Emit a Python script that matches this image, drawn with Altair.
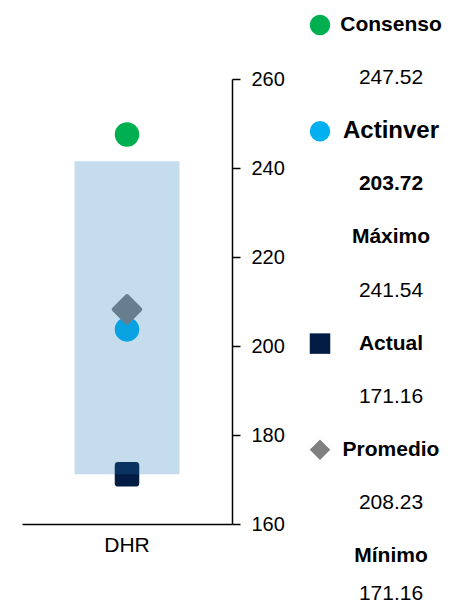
import altair as alt
import pandas as pd

# ---- data ----
tickers = ["DHR"]
series = ["Consenso", "Actinver", "Promedio", "Actual"]
series_values = [247.52, 203.72, 208.23, 171.16]
maximo = [241.54]
minimo = [171.16]
y_ticks = [160, 180, 200, 220, 240, 260]

legend_names = ["Consenso", "Actinver", "Máximo", "Actual", "Promedio", "Mínimo"]
legend_values = [247.52, 203.72, 241.54, 171.16, 208.23, 171.16]

# ---- styles ----
FONT = "Liberation Sans"
series_colors = ["#00b050", "#00b0f0", "#808080", "#031c44"]
round_square = "M-1,-0.72Q-1,-1,-0.72,-1L0.72,-1Q1,-1,1,-0.72L1,0.72Q1,1,0.72,1L-0.72,1Q-1,1,-1,0.72Z"
round_diamond = "M-0.9,-0.1L-0.1,-0.9Q0,-1,0.1,-0.9L0.9,-0.1Q1,0,0.9,0.1L0.1,0.9Q0,1,-0.1,0.9L-0.9,0.1Q-1,0,-0.9,-0.1Z"
plot_shapes = ["circle", "circle", round_diamond, round_square]
legend_shapes = ["circle", "circle", "diamond", "square"]

pts_df = pd.DataFrame({
    "ticker": tickers * len(series),
    "series": series,
    "value": series_values,
})
band_df = pd.DataFrame({"ticker": tickers, "minimo": minimo, "maximo": maximo})

leg_rows = []
for i, (n, v) in enumerate(zip(legend_names, legend_values)):
    leg_rows.append({"row": 2 * i, "col": 1, "label": n, "entry": n, "kind": "name"})
    leg_rows.append({"row": 2 * i + 1, "col": 1, "label": f"{v:.2f}", "entry": n, "kind": "value"})
leg_df = pd.DataFrame(leg_rows)

mk_df = pd.DataFrame({
    "series": series,
    "row": [2 * legend_names.index(s) for s in series],
    "col": [0] * len(series),
})

# ---- plot ----
x_axis = alt.Axis(orient="bottom", title=None, labelAngle=0, ticks=False, tickSize=0,
                  labelFontSize=21, labelColor="#000000", labelPadding=10,
                  domainColor="#000000", domainWidth=1.5, labelFont=FONT)
y_axis = alt.Axis(orient="right", values=y_ticks, title=None, grid=False,
                  labelFontSize=20, labelColor="#000000", labelPadding=11,
                  tickSize=8, tickColor="#000000", tickWidth=1.5,
                  domainColor="#000000", domainWidth=1.5, labelFont=FONT)
x_enc = alt.X("ticker:N", scale=alt.Scale(domain=tickers), axis=x_axis)
y_scale = alt.Scale(domain=[160, 260], nice=False, zero=False)
color_plot = alt.Color("series:N", scale=alt.Scale(domain=series, range=series_colors), legend=None)
shape_plot = alt.Shape("series:N", scale=alt.Scale(domain=series, range=plot_shapes), legend=None)

points = alt.Chart(pts_df).transform_filter("datum.series != 'Promedio'").mark_point(
    filled=True, opacity=1, strokeWidth=0, size=600
).encode(
    x=x_enc,
    y=alt.Y("value:Q", scale=y_scale, axis=y_axis),
    color=color_plot,
    shape=shape_plot,
)

diamond = alt.Chart(pts_df).transform_filter("datum.series == 'Promedio'").mark_point(
    filled=True, opacity=1, strokeWidth=0, size=1050
).encode(
    x=x_enc,
    y=alt.Y("value:Q", scale=y_scale, axis=y_axis),
    color=color_plot,
    shape=shape_plot,
)

band = alt.Chart(band_df).mark_bar(size=105, color="#1f77b4", opacity=0.26).encode(
    x=x_enc,
    y=alt.Y("minimo:Q", scale=y_scale, axis=y_axis),
    y2="maximo:Q",
)

plot = alt.layer(points, diamond, band)

# ---- legend column ----
ly = alt.Y("row:Q", scale=alt.Scale(domain=[0, 10, 11], range=[-54, 477, 515]), axis=None)
lx = alt.X("col:Q", scale=alt.Scale(domain=[0, 1], range=[298, 369]), axis=None)

markers = alt.Chart(mk_df).mark_point(filled=True, opacity=1, strokeWidth=0, size=420).encode(
    x=lx, y=ly,
    color=alt.Color("series:N", scale=alt.Scale(domain=series, range=series_colors), legend=None),
    shape=alt.Shape("series:N", scale=alt.Scale(domain=series, range=legend_shapes), legend=None),
)

txt_bold = alt.Chart(leg_df).transform_filter(
    "(datum.kind == 'name' && datum.entry != 'Actinver') || (datum.kind == 'value' && datum.entry == 'Actinver')"
).mark_text(font=FONT, fontSize=21, fontWeight="bold", color="#000000",
            align="center", baseline="middle").encode(x=lx, y=ly, text="label:N")

txt_big = alt.Chart(leg_df).transform_filter(
    "datum.kind == 'name' && datum.entry == 'Actinver'"
).mark_text(font=FONT, fontSize=24, fontWeight="bold", color="#000000",
            align="center", baseline="middle").encode(x=lx, y=ly, text="label:N")

txt_reg = alt.Chart(leg_df).transform_filter(
    "datum.kind == 'value' && datum.entry != 'Actinver'"
).mark_text(font=FONT, fontSize=21, fontWeight="normal", color="#000000",
            align="center", baseline="middle").encode(x=lx, y=ly, text="label:N")

legend = alt.layer(markers, txt_bold, txt_big, txt_reg)

chart = alt.layer(plot, legend).resolve_scale(
    x="independent", y="independent", color="independent", shape="independent",
).properties(
    width=210, height=445,
    autosize=alt.AutoSizeParams(type="none"),
    padding={"left": 14, "top": 71, "right": 211, "bottom": 81},
).configure(font=FONT, view=alt.ViewConfig(strokeWidth=0))

chart.save("out.html", embed_options={"renderer": "svg", "actions": False})
